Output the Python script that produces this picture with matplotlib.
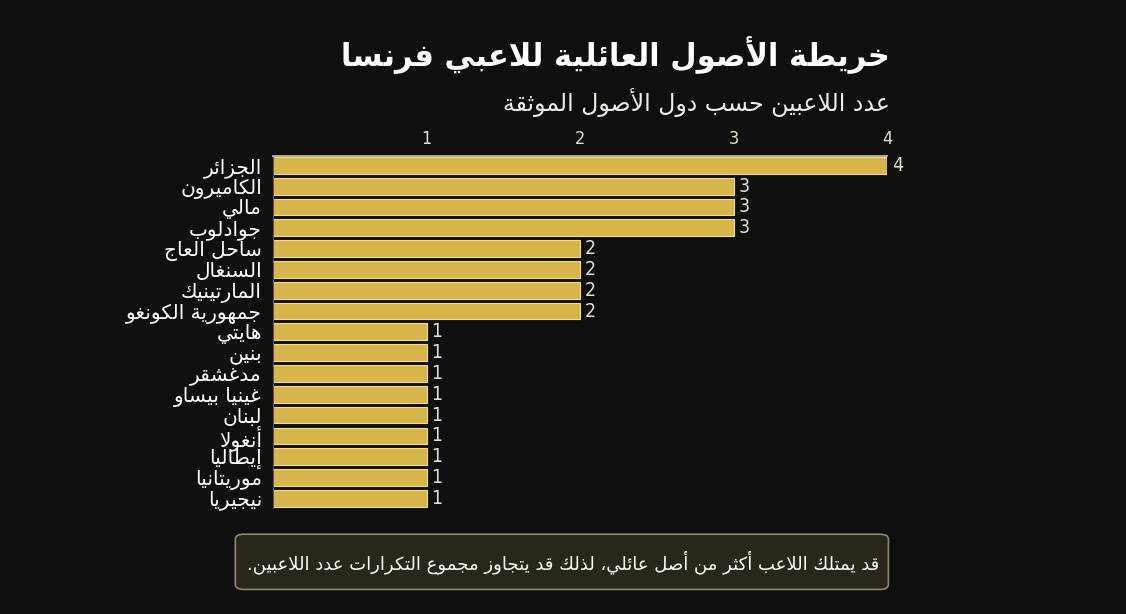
import matplotlib
matplotlib.use("Agg")
import matplotlib.pyplot as plt
from matplotlib.patches import FancyBboxPatch

# data
countries = ["الجزائر", "الكاميرون", "مالي", "جوادلوب", "ساحل العاج", "السنغال",
             "المارتينيك", "جمهورية الكونغو", "هايتي", "بنين", "مدغشقر",
             "غينيا بيساو", "لبنان", "أنغولا", "إيطاليا", "موريتانيا", "نيجيريا"]
counts = [4, 3, 3, 3, 2, 2, 2, 2, 1, 1, 1, 1, 1, 1, 1, 1, 1]
ticks = [1, 2, 3, 4]

title = "خريطة الأصول العائلية للاعبي فرنسا"
subtitle = "عدد اللاعبين حسب دول الأصول الموثقة"
note = "قد يمتلك اللاعب أكثر من أصل عائلي، لذلك قد يتجاوز مجموع التكرارات عدد اللاعبين."

# minimal arabic shaping (matplotlib has no complex text layout)
_counts = [1, 2, 2, 2, 2, 4, 2, 4, 2, 4, 4, 4, 4, 4, 2, 2, 2, 2, 4, 4, 4, 4, 4, 4, 4, 4,
           4, 4, 4, 4, 4, 4, 4, 2, 2, 4]
_letters = [chr(c) for c in list(range(0x0621, 0x063B)) + list(range(0x0641, 0x064B))]
FORMS = {}
_start = 0xFE80
for ch, n in zip(_letters, _counts):
    FORMS[ch] = (_start, n)
    _start += n
LAM_ALEF = {"\u0622": 0xFEF5, "\u0623": 0xFEF7, "\u0625": 0xFEF9, "\u0627": 0xFEFB}


def shape(text):
    # merge lam-alef first
    chars = []
    i = 0
    while i < len(text):
        if text[i] == "\u0644" and i + 1 < len(text) and text[i + 1] in LAM_ALEF:
            chars.append(("LA", text[i + 1]))
            i += 2
        else:
            chars.append((text[i], None))
            i += 1

    def joins(c):
        return c[0] == "LA" or c[0] in FORMS and FORMS[c[0]][1] > 1

    def dual(c):
        return c[0] != "LA" and c[0] in FORMS and FORMS[c[0]][1] == 4

    out = []
    for k, c in enumerate(chars):
        prev_ok = k > 0 and dual(chars[k - 1])
        next_ok = k + 1 < len(chars) and joins(chars[k + 1])
        if c[0] == "LA":
            out.append(chr(LAM_ALEF[c[1]] + (1 if prev_ok else 0)))
            continue
        if c[0] not in FORMS:
            out.append(c[0])
            continue
        base, n = FORMS[c[0]]
        if n == 1:
            out.append(chr(base))
        elif n == 2:
            out.append(chr(base + (1 if prev_ok else 0)))
        else:
            if prev_ok and next_ok:
                off = 3
            elif prev_ok:
                off = 1
            elif next_ok:
                off = 2
            else:
                off = 0
            out.append(chr(base + off))
    return "".join(out)[::-1]


bg = "#0f0f0f"
gold = "#d8b54b"
beige = "#e6dfcc"

plt.rcParams["font.family"] = ["DejaVu Sans"]

fig = plt.figure(figsize=(11.26, 6.14), dpi=100, facecolor=bg)
ax = fig.add_axes([0.2425, 0.1726, 0.5453, 0.5733])
ax.set_facecolor(bg)

y = list(range(len(countries)))
bars = ax.barh(y, counts, height=0.8, color=gold, edgecolor="#efdc9a", linewidth=0.8)
ax.set_xlim(0, 4)
ax.set_ylim(16.47, -0.45)

for b, v in zip(bars, counts):
    ax.text(b.get_width() + 0.03, b.get_y() + b.get_height() / 2, str(v),
            va="center", ha="left", color=beige, fontsize=14, fontstretch="condensed")

ax.set_yticks(y)
ax.set_yticklabels([shape(c) for c in countries], color="white", fontsize=14.5)
ax.tick_params(axis="y", length=0, pad=8)

ax.xaxis.tick_top()
ax.set_xticks(ticks)
ax.set_xticklabels([str(t) for t in ticks], color=beige, fontsize=13, fontstretch="condensed")
ax.tick_params(axis="x", length=0, pad=6)

for s in ["right", "bottom"]:
    ax.spines[s].set_visible(False)
ax.spines["top"].set_color("#cfc8b8")
ax.spines["top"].set_linewidth(1.2)
ax.spines["left"].set_color("#5a554a")

fig.text(0.790, 0.91, shape(title), ha="right", va="center", color="white",
         fontsize=22, fontweight="bold")
fig.text(0.790, 0.833, shape(subtitle), ha="right", va="center", color="#f0ede6",
         fontsize=17)

box = FancyBboxPatch((0.209, 0.04), 0.58, 0.09, boxstyle="round,pad=0,rounding_size=0.008",
                     transform=fig.transFigure, facecolor="#29261a", edgecolor="#8c8672",
                     linewidth=1.2)
fig.patches.append(box)
fig.text(0.5, 0.085, shape(note), ha="center", va="center", color="white", fontsize=13)

fig.savefig("out.png", dpi=100, facecolor=bg)
